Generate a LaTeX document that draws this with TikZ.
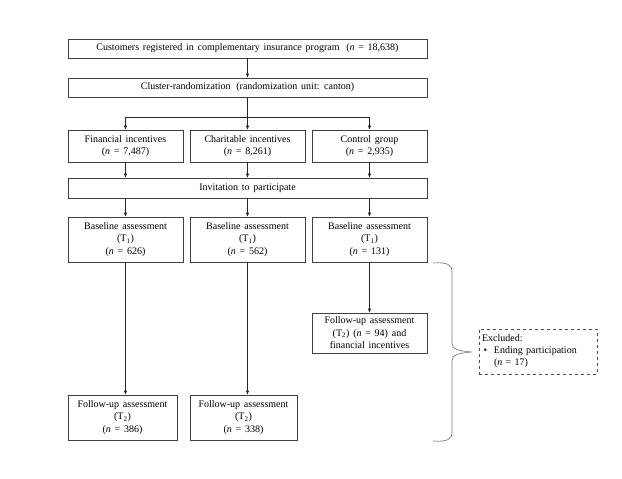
\documentclass[tikz,border=0pt]{standalone}
\usepackage{fontspec}
\setmainfont[WordSpace=1.5]{Liberation Serif}
\usetikzlibrary{arrows.meta}
\begin{document}
\begin{tikzpicture}[x=1pt,y=-1pt,
  box/.style={draw=black!75, line width=0.7pt, align=center, inner sep=0pt,
    font=\fontsize{10}{12.5}\selectfont},
  conn/.style={draw=black!85, line width=0.7pt},
  arr/.style={conn, -{Latex[length=4pt,width=3.6pt]}}]
\useasboundingbox[fill=white] (0,0) rectangle (622,479);
% boxes
\node[box, minimum width=359pt, minimum height=19pt] (top) at (247.5,48.5)
  {Customers registered in complementary insurance program\hspace{3pt} (\textit{n} = 18,638)};
\node[box, minimum width=359pt, minimum height=19pt] (clu) at (247.5,87.5)
  {Cluster-randomization\hspace{2pt} (randomization unit: canton)};
\node[box, minimum width=115pt, minimum height=32pt] (fin) at (125.5,146)
  {Financial incentives\\(\textit{n} = 7,487)};
\node[box, minimum width=115pt, minimum height=32pt] (cha) at (247.5,146)
  {Charitable incentives\\(\textit{n} = 8,261)};
\node[box, minimum width=115pt, minimum height=32pt] (ctl) at (369.5,146)
  {Control group\\(\textit{n} = 2,935)};
\node[box, minimum width=359pt, minimum height=20pt] (inv) at (247.5,188)
  {Invitation to participate};
\node[box, minimum width=115pt, minimum height=45pt] (b1) at (125.5,239.5)
  {Baseline assessment\\(T\textsubscript{1})\\(\textit{n} = 626)};
\node[box, minimum width=115pt, minimum height=45pt] (b2) at (247.5,239.5)
  {Baseline assessment\\(T\textsubscript{1})\\(\textit{n} = 562)};
\node[box, minimum width=115pt, minimum height=45pt] (b3) at (369.5,239.5)
  {Baseline assessment\\(T\textsubscript{1})\\(\textit{n} = 131)};
\node[box, minimum width=115pt, minimum height=40pt] (f3) at (369.5,333)
  {Follow-up assessment\\(T\textsubscript{2}) (\textit{n} = 94) and\\financial incentives};
\node[box, minimum width=109pt, minimum height=45pt] (f1) at (122.5,417.5)
  {Follow-up assessment\\(T\textsubscript{2})\\(\textit{n} = 386)};
\node[box, minimum width=107pt, minimum height=45pt] (f2) at (243.5,417.5)
  {Follow-up assessment\\(T\textsubscript{2})\\(\textit{n} = 338)};
\node[box, draw=black!70, dashed, align=left, minimum width=118pt, minimum height=45pt,
  text width=112pt] (exc) at (538,351.5)
  {Excluded:\\[-0.5pt]%
   \makebox[12pt][l]{\,\textbullet}Ending participation\\[-0.5pt]%
   \hspace*{12pt}(\textit{n} = 17)};
% connectors
\coordinate (split) at (247.5,117);
\draw[arr] (top) -- (clu);
\draw[conn] (clu) -- (split);
\draw[arr] (split) -| (fin);
\draw[arr] (split) -| (ctl);
\draw[arr] (split) -- (cha);
\draw[arr] (fin) -- (fin.south |- inv.north);
\draw[arr] (cha) -- (cha.south |- inv.north);
\draw[arr] (ctl) -- (ctl.south |- inv.north);
\draw[arr] (inv.south -| b1) -- (b1);
\draw[arr] (inv.south -| b2) -- (b2);
\draw[arr] (inv.south -| b3) -- (b3);
\draw[arr] (b1.south) -- (b1.south |- f1.north);
\draw[arr] (b2.south) -- (b2.south |- f2.north);
\draw[arr] (b3) -- (f3);
% brace
\draw[draw=black!50, line width=0.7pt]
  (433,263) .. controls (448,262) and (452,265) .. (452,272) -- (452,343)
  .. controls (452,349) and (458,351) .. (472,352)
  .. controls (458,353) and (452,355) .. (452,361) -- (452,432)
  .. controls (452,439) and (448,442) .. (433,441);
\end{tikzpicture}
\end{document}
